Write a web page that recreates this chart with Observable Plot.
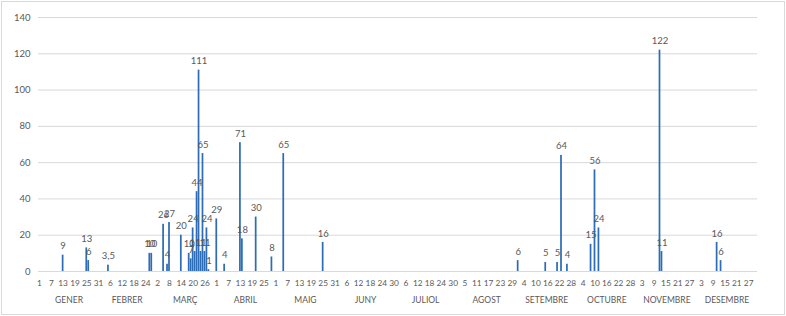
<!DOCTYPE html>
<html>
<head>
<meta charset="utf-8">
<script src="https://cdn.jsdelivr.net/npm/d3@7"></script>
<script src="https://cdn.jsdelivr.net/npm/@observablehq/plot@0.6"></script>
<style>
  body { margin: 0; background: #fff; }
  #chart svg { outline: 1px solid #d9d9d9; outline-offset: -2px; }
</style>
</head>
<body>
<div id="chart"></div>
<script>
const year = 2019; // non-leap year (Feb 24 + 6 days = Mar 2)
const dates = ["01-13","01-25","01-26","02-05","02-26","02-27","03-05","03-07","03-08","03-14",
  "03-18","03-19","03-20","03-21","03-22","03-23","03-24","03-25","03-26","03-27","03-28",
  "04-01","04-05","04-13","04-14","04-21","04-29","05-05","05-25",
  "09-01","09-15","09-21","09-23","09-26","10-08","10-10","10-12",
  "11-12","11-13","12-11","12-13"];
const values = [9,13,6,3.5,10,10,26,4,27,20,
  10,7,24,11,44,111,11,65,11,24,1,
  29,4,71,18,30,8,65,16,
  6,5,5,64,4,15,56,24,
  122,11,16,6];
const months = ["GENER","FEBRER","MARÇ","ABRIL","MAIG","JUNY","JULIOL","AGOST","SETEMBRE","OCTUBRE","NOVEMBRE","DESEMBRE"];
const yTicks = [0,20,40,60,80,100,120,140];
const dayStep = 6;

const start = new Date(Date.UTC(year, 0, 1));
const end = new Date(Date.UTC(year + 1, 0, 1));
const nDays = d3.utcDay.count(start, end);
const idx = s => d3.utcDay.count(start, new Date(`${year}-${s}T00:00:00Z`));

const data = dates.map((d, i) => ({day: idx(d), value: values[i]}));
const tickDays = d3.range(0, nDays, dayStep).map(i => i + 0.5);
const dayOf = v => d3.utcDay.offset(start, Math.floor(v)).getUTCDate();
const monthData = d3.utcMonths(start, end).map((m, i) => {
  const s = d3.utcDay.count(start, m);
  const e = d3.utcDay.count(start, d3.utcMonth.offset(m, 1));
  return {name: months[i], center: (s + e) / 2};
});
const fmt = v => String(v).replace(".", ",");
const txt = "#595959";

const chart = Plot.plot({
  width: 786,
  height: 316,
  marginLeft: 38,
  marginRight: 29,
  marginTop: 17,
  marginBottom: 45,
  style: {fontFamily: "Lato, 'Open Sans', sans-serif", fontSize: "9.5px", color: txt, background: "#fff"},
  x: {domain: [0, nDays], label: null},
  y: {domain: [0, 140], label: null},
  marks: [
    Plot.gridY(yTicks, {stroke: "#d9d9d9", strokeOpacity: 1}),
    Plot.axisY({ticks: yTicks, tickSize: 0, tickPadding: 8, label: null}),
    Plot.axisX({ticks: tickDays, tickSize: 0, tickPadding: 9, tickFormat: dayOf, label: null, fontSize: 8.3}),
    Plot.rectY(data, {x1: "day", x2: d => d.day + 1, y: "value", fill: "#2e6db5", insetLeft: 0.12, insetRight: 0.12}),
    Plot.text(data, {x: d => d.day + 0.5, y: "value", text: d => fmt(d.value), dy: -9, fill: txt}),
    Plot.text(monthData, {x: "center", text: "name", frameAnchor: "bottom", dy: 31, fill: txt, fontSize: 8.5})
  ]
});
document.getElementById("chart").append(chart);
</script>
</body>
</html>
